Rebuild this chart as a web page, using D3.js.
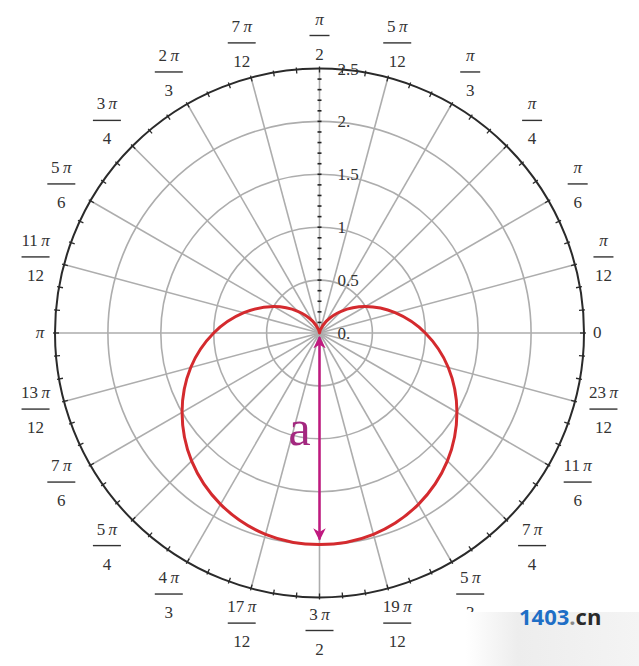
<!DOCTYPE html>
<html>
<head>
<meta charset="utf-8">
<script src="https://cdn.jsdelivr.net/npm/d3@7"></script>
<style>
  body { margin: 0; background: #fff; }
  svg { display: block; }
</style>
</head>
<body>
<div id="chart"></div>
<script>
// Cardioid r = a(1 - sin θ) on a polar grid, a = 1 (values read at every 15°)
const curveAngles = [0, 15, 30, 45, 60, 75, 90, 105, 120, 135, 150, 165,
                     180, 195, 210, 225, 240, 255, 270, 285, 300, 315, 330, 345];
const curveRadii  = [1, 0.74, 0.5, 0.29, 0.13, 0.03, 0, 0.03, 0.13, 0.29, 0.5, 0.74,
                     1, 1.26, 1.5, 1.71, 1.87, 1.97, 2, 1.97, 1.87, 1.71, 1.5, 1.26];

// radial axis
const radialTicks  = [0, 0.5, 1, 1.5, 2, 2.5];
const radialLabels = ["0.", "0.5", "1", "1.5", "2.", "2.5"];

// angular labels, one per 15 degrees (numerator / denominator, "" = plain label)
const angleNums = ["0", "π", "π", "π", "π", "5π", "π", "7π", "2π", "3π", "5π", "11π",
                   "π", "13π", "7π", "5π", "4π", "17π", "3π", "19π", "5π", "7π", "11π", "23π"];
const angleDens = ["", "12", "6", "4", "3", "12", "2", "12", "3", "4", "6", "12",
                   "", "12", "6", "4", "3", "12", "2", "12", "3", "4", "6", "12"];

const arrowLength = 2;   // the "a" marker: from the pole down to r = 2

const width = 639, height = 666;
const cx = 319.5, cy = 333, R = 264.5;
const serif = "Liberation Serif, Times New Roman, DejaVu Serif, serif";

const svg = d3.select("#chart").append("svg")
    .attr("width", width)
    .attr("height", height);

const defs = svg.append("defs");

const g = svg.append("g")
    .attr("transform", `translate(${cx},${cy})`);

const rScale = d3.scaleLinear().domain([0, 2.5]).range([0, R]);
const toRad = d => d * Math.PI / 180;

// grid circles
g.selectAll("circle.grid")
    .data(radialTicks.filter(d => d > 0 && d < 2.5))
    .enter().append("circle")
    .attr("class", "grid")
    .attr("r", d => rScale(d))
    .attr("fill", "none")
    .attr("stroke", "#adadad")
    .attr("stroke-width", 1.6);

// radial spokes every 15 degrees
g.selectAll("line.spoke")
    .data(curveAngles)
    .enter().append("line")
    .attr("class", "spoke")
    .attr("x1", 0).attr("y1", 0)
    .attr("x2", d => R * Math.cos(toRad(d)))
    .attr("y2", d => -R * Math.sin(toRad(d)))
    .attr("stroke", "#adadad")
    .attr("stroke-width", 1.6);

// outer circle
g.append("circle")
    .attr("r", R)
    .attr("fill", "none")
    .attr("stroke", "#2a2a2a")
    .attr("stroke-width", 2);

// small ticks on the outer circle every 5 degrees
g.selectAll("line.otick")
    .data(d3.range(0, 360, 5))
    .enter().append("line")
    .attr("class", "otick")
    .attr("x1", d => (R - 4) * Math.cos(toRad(d)))
    .attr("y1", d => -(R - 4) * Math.sin(toRad(d)))
    .attr("x2", d => (R + 2) * Math.cos(toRad(d)))
    .attr("y2", d => -(R + 2) * Math.sin(toRad(d)))
    .attr("stroke", "#2a2a2a")
    .attr("stroke-width", 1.3);

// ticks along the radial axis (vertical) every 0.1
g.selectAll("line.rtick")
    .data(d3.range(1, 25).map(i => i / 10))
    .enter().append("line")
    .attr("class", "rtick")
    .attr("x1", -2).attr("x2", 2)
    .attr("y1", d => -rScale(d))
    .attr("y2", d => -rScale(d))
    .attr("stroke", "#222")
    .attr("stroke-width", 1.6);

// radial tick labels
g.selectAll("text.rlabel")
    .data(radialTicks)
    .enter().append("text")
    .attr("class", "rlabel")
    .attr("x", 18)
    .attr("y", d => -rScale(d) + 6)
    .attr("font-family", serif)
    .attr("font-size", 17)
    .attr("fill", "#333")
    .text((d, i) => radialLabels[i]);

// angular labels
const labels = g.selectAll("g.alabel")
    .data(curveAngles)
    .enter().append("g")
    .attr("class", "alabel")
    .attr("transform", (d, i) => {
        const frac = angleDens[i] !== "";
        const hw = frac ? 14 : 5, hh = frac ? 23 : 6;
        const a = toRad(d);
        const dist = R + 10 + Math.abs(Math.cos(a)) * hw + Math.abs(Math.sin(a)) * hh;
        return `translate(${dist * Math.cos(a)},${-dist * Math.sin(a)})`;
    });

function writeNum(sel, s) {
    const parts = s.split("π");
    if (parts[0]) sel.append("tspan").text(parts[0] + "\u2009");
    if (s.indexOf("π") >= 0) sel.append("tspan").attr("font-style", "italic").text("π");
}

function labelText(el, y) {
    return el.append("text")
        .attr("text-anchor", "middle")
        .attr("y", y)
        .attr("font-family", serif)
        .attr("font-size", 17)
        .attr("fill", "#333");
}

labels.each(function(d, i) {
    const el = d3.select(this);
    if (angleDens[i] === "") {
        writeNum(labelText(el, 5), angleNums[i]);
    } else {
        writeNum(labelText(el, -11), angleNums[i]);
        const w = angleNums[i].length > 1 ? 28 : 20;
        el.append("line")
            .attr("x1", -w / 2).attr("x2", w / 2)
            .attr("y1", 0).attr("y2", 0)
            .attr("stroke", "#333")
            .attr("stroke-width", 1.4);
        labelText(el, 24).text(angleDens[i]);
    }
});

// the cardioid
const radial = d3.lineRadial()
    .angle((d, i) => Math.PI / 2 - toRad(curveAngles[i]))
    .radius(d => rScale(d))
    .curve(d3.curveCatmullRomClosed.alpha(0.5));

g.append("path")
    .datum(curveRadii)
    .attr("d", radial)
    .attr("fill", "none")
    .attr("stroke", "#d42a2e")
    .attr("stroke-width", 3);

// double-headed arrow for "a"
const magenta = "#c0197f";
["arrowEnd", "arrowStart"].forEach(id => {
    defs.append("marker")
        .attr("id", id)
        .attr("viewBox", "0 0 10 10")
        .attr("refX", 9).attr("refY", 5)
        .attr("markerWidth", 5).attr("markerHeight", 6)
        .attr("orient", id === "arrowEnd" ? "auto" : "auto-start-reverse")
        .append("path")
        .attr("d", "M0,0 L10,5 L0,10 L3,5 Z")
        .attr("fill", magenta);
});

g.append("line")
    .attr("x1", 0).attr("y1", rScale(0.04))
    .attr("x2", 0).attr("y2", rScale(arrowLength) - 5)
    .attr("stroke", magenta)
    .attr("stroke-width", 2.5)
    .attr("marker-start", "url(#arrowStart)")
    .attr("marker-end", "url(#arrowEnd)");

g.append("text")
    .attr("x", -20)
    .attr("y", rScale(1.06))
    .attr("text-anchor", "middle")
    .attr("font-family", serif)
    .attr("font-size", 50)
    .attr("fill", "#a3287f")
    .text("a");

// watermark strip, bottom right
const grad = defs.append("linearGradient").attr("id", "wm")
    .attr("x1", "0").attr("x2", "1").attr("y1", "0").attr("y2", "0");
grad.append("stop").attr("offset", "0").attr("stop-color", "#fff");
grad.append("stop").attr("offset", "0.3").attr("stop-color", "#ededed");
grad.append("stop").attr("offset", "1").attr("stop-color", "#f4f4f4");

svg.append("rect")
    .attr("x", 466).attr("y", 612)
    .attr("width", 173).attr("height", 54)
    .attr("fill", "url(#wm)");

const wm = svg.append("text")
    .attr("x", 519).attr("y", 625)
    .attr("font-family", "Open Sans, DejaVu Sans, sans-serif")
    .attr("font-size", 22)
    .attr("font-weight", "bold");
wm.append("tspan").attr("fill", "#1f6fc6").text("1403");
wm.append("tspan").attr("fill", "#888").text(".");
wm.append("tspan").attr("fill", "#2a2a2a").text("cn");
</script>
</body>
</html>
